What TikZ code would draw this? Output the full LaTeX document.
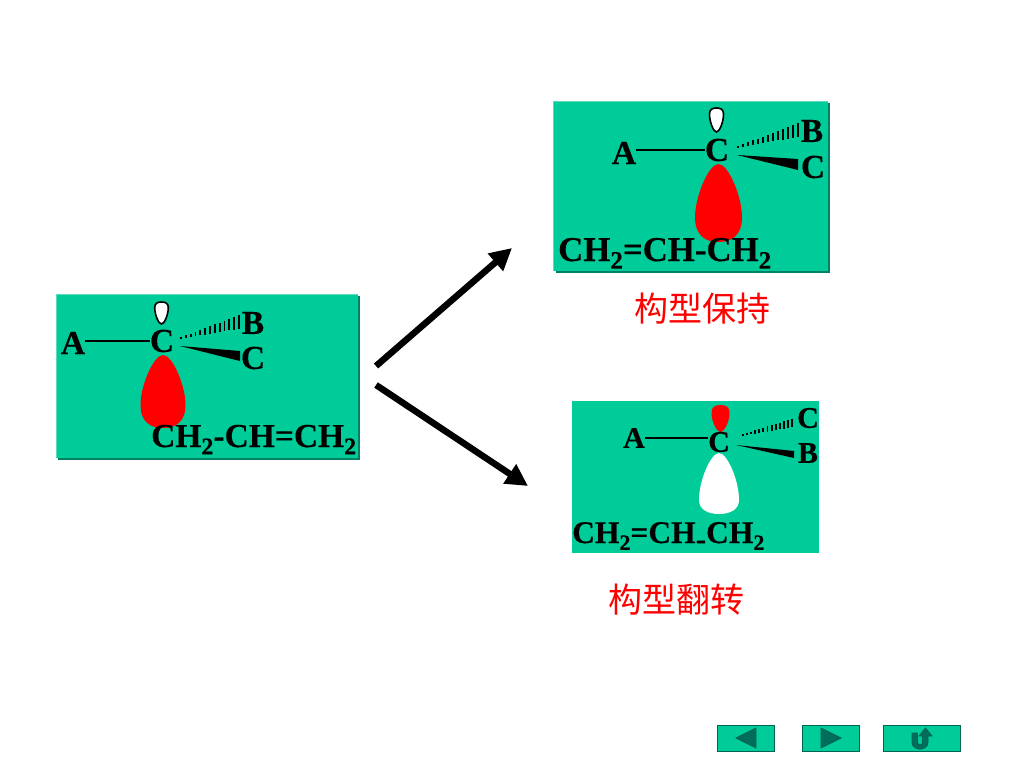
\documentclass[tikz,border=0pt]{standalone}
\usepackage{fontspec}
\setmainfont{Liberation Serif}[BoldFeatures={FakeBold=0.35}]
\newfontfamily\cjkfont{Noto Sans CJK SC}
\usetikzlibrary{arrows.meta}
\definecolor{panelgreen}{RGB}{0,204,153}
\definecolor{paneldark}{RGB}{0,128,100}
\definecolor{panellight}{RGB}{90,222,185}
\definecolor{btndark}{RGB}{0,100,85}
\definecolor{btnfill}{RGB}{0,110,90}
\definecolor{lobered}{RGB}{255,0,0}
\newcommand{\chemsize}[1]{\fontsize{#1}{#1}\selectfont\bfseries}
\newcommand{\subtwo}[1]{\raisebox{-0.22em}{\fontsize{#1}{#1}\selectfont\bfseries 2}}
\newcommand{\hatchbond}[5]{%
  \foreach \k in {0,...,12}{%
    \pgfmathsetmacro{\tt}{\k/12}%
    \pgfmathsetmacro{\hx}{#1+(#3-#1)*\tt}%
    \pgfmathsetmacro{\hy}{#2+(#4-#2)*\tt}%
    \pgfmathsetmacro{\hh}{0.8+#5*\tt}%
    \draw[black,line width=1.9pt] (\hx,\hy-\hh) -- (\hx,\hy+\hh);
  }}
\newcommand{\bigLobe}[5]{% cx, top, halfwidth, bottom, colour
  \pgfmathsetmacro{\lh}{#4-#2}%
  \fill[#5] (#1,#2) .. controls (#1+0.42*#3,#2) and (#1+#3,#2+0.42*\lh) .. (#1+#3,#2+0.68*\lh)
     .. controls (#1+#3,#2+0.92*\lh) and (#1+0.55*#3,#4) .. (#1,#4)
     .. controls (#1-0.55*#3,#4) and (#1-#3,#2+0.92*\lh) .. (#1-#3,#2+0.68*\lh)
     .. controls (#1-#3,#2+0.42*\lh) and (#1-0.42*#3,#2) .. (#1,#2) -- cycle;}
\newcommand{\smallLobe}[5]{% cx, top, halfwidth, bottom, fill
  \pgfmathsetmacro{\lh}{#4-#2}%
  \filldraw[draw=black,line width=1.6pt,fill=#5] (#1,#4) .. controls (#1+0.4*#3,#4) and (#1+#3,#2+0.6*\lh) .. (#1+#3,#2+0.25*\lh)
     .. controls (#1+#3,#2+0.04*\lh) and (#1+0.5*#3,#2) .. (#1,#2)
     .. controls (#1-0.5*#3,#2) and (#1-#3,#2+0.04*\lh) .. (#1-#3,#2+0.25*\lh)
     .. controls (#1-#3,#2+0.6*\lh) and (#1-0.4*#3,#4) .. (#1,#4) -- cycle;}
\tikzset{
  x=1pt,y=-1pt,
  atom/.style={inner sep=0pt,font=\chemsize{33.5},text=black},
  smallatom/.style={inner sep=0pt,font=\chemsize{30},text=black},
  chain/.style={inner sep=0pt,anchor=base west,text=black},
  caption/.style={inner sep=0pt,text=lobered,font=\cjkfont\fontsize{34}{34}\selectfont},
  bondline/.style={draw=black,line width=1.5pt},
  bigarrow/.style={draw=black,line width=6.5pt,-{Triangle[length=22pt,width=22pt]}},
  navbtn/.style={draw=btndark,line width=1pt,fill=panelgreen},
  navicon/.style={draw=btndark,line width=0.8pt,fill=btnfill},
}
\begin{document}
\begin{tikzpicture}
\useasboundingbox (0,0) rectangle (1024,768);
\fill[white] (0,0) rectangle (1024,768);

% ---- left panel
\fill[paneldark] (58,296) rectangle (360,460);
\fill[panellight] (56,294) rectangle (358,458);
\fill[panelgreen] (57,295) rectangle (358,458);
\bigLobe{163}{355}{22.5}{428}{lobered}
\smallLobe{161.5}{302}{6.8}{324}{white}
\node[atom] (a1) at (73,343) {A};
\node[atom] (c1) at (162,341) {C};
\node[atom] (b1) at (253,323) {B};
\node[atom] (d1) at (253,358) {C};
\draw[bondline] (a1.east |- c1.center) -- (c1.west);
\hatchbond{181}{338}{239}{322}{6}
\fill[black] (180,346) -- (240,351) -- (240,361) -- cycle;
\node[chain,font=\chemsize{33.5}] (t1) at (151,447) {CH\subtwo{24}-CH=CH\subtwo{24}};

% ---- top right panel
\fill[paneldark] (556,103) rectangle (830,273);
\fill[panellight] (553,101) rectangle (828,271);
\fill[panelgreen] (554,102) rectangle (828,271);
\bigLobe{718.5}{164}{23.5}{242}{lobered}
\smallLobe{716.5}{108}{7}{132}{white}
\node[atom] (a2) at (624,153) {A};
\node[atom] (c2) at (717,150) {C};
\node[atom] (b2) at (812,131) {B};
\node[atom] (d2) at (813,167) {C};
\draw[bondline] (a2.east |- c2.center) -- (c2.west);
\hatchbond{738}{147}{798}{130}{6}
\fill[black] (737,155) -- (798,159) -- (798,170) -- cycle;
\node[chain,font=\chemsize{34.8}] (t2) at (558,261) {CH\subtwo{25}=CH-CH\subtwo{25}};
\node[caption] (cap2) at (702,309) {构型保持};

% ---- bottom right panel
\fill[panelgreen] (572,401) rectangle (819,553);
\fill[white] (719,453) .. controls (727,453) and (739,480) .. (739,500)
   .. controls (739,509) and (731,514) .. (719,514)
   .. controls (707,514) and (699,509) .. (699,500)
   .. controls (699,480) and (711,453) .. (719,453) -- cycle;
\fill[lobered] (720.5,432) .. controls (724,432) and (729.5,422) .. (729.5,413)
   .. controls (729.5,407) and (726,405) .. (720.5,405)
   .. controls (715,405) and (711.5,407) .. (711.5,413)
   .. controls (711.5,422) and (717,432) .. (720.5,432) -- cycle;
\node[smallatom] (a3) at (634,438) {A};
\node[smallatom] (c3) at (719,442) {C};
\node[smallatom] (b3) at (808,453) {B};
\node[smallatom] (d3) at (808,418) {C};
\draw[bondline] (a3.east |- a3.center) -- (c3.west |- a3.center);
\hatchbond{743}{435}{792}{423}{3.5}
\fill[black] (736,445) -- (794,451) -- (794,458) -- cycle;
\node[chain,font=\chemsize{31.5}] (t3) at (572,543) {CH\subtwo{22}=CH\raisebox{-0.2em}{-}CH\subtwo{22}};
\node[caption] (cap3) at (676,600) {构型翻转};

% ---- reaction arrows
\coordinate (s1) at (376,366);
\coordinate (e1) at (512,248);
\coordinate (s2) at (376,385);
\coordinate (e2) at (528,486);
\draw[bigarrow] (s1) -- (e1);
\draw[bigarrow] (s2) -- (e2);

% ---- navigation buttons
\path[navbtn] (717,725.5) rectangle (774,751);
\path[navbtn] (802,725.5) rectangle (859,751);
\path[navbtn] (883,725.5) rectangle (960,751);
\path[navicon] (736,738) -- (756,728) -- (756,748) -- cycle;
\path[navicon] (821,728) -- (841,738) -- (821,748) -- cycle;
\path[navicon] (912,733) -- (912,742) .. controls (912,751.5) and (928,751.5) .. (928,742)
  -- (928,736) -- (932,736) -- (925.5,728) -- (919,736) -- (922.5,736) -- (922.5,742)
  .. controls (922.5,746) and (917.5,746) .. (917.5,742) -- (917.5,733) -- cycle;
\end{tikzpicture}
\end{document}
